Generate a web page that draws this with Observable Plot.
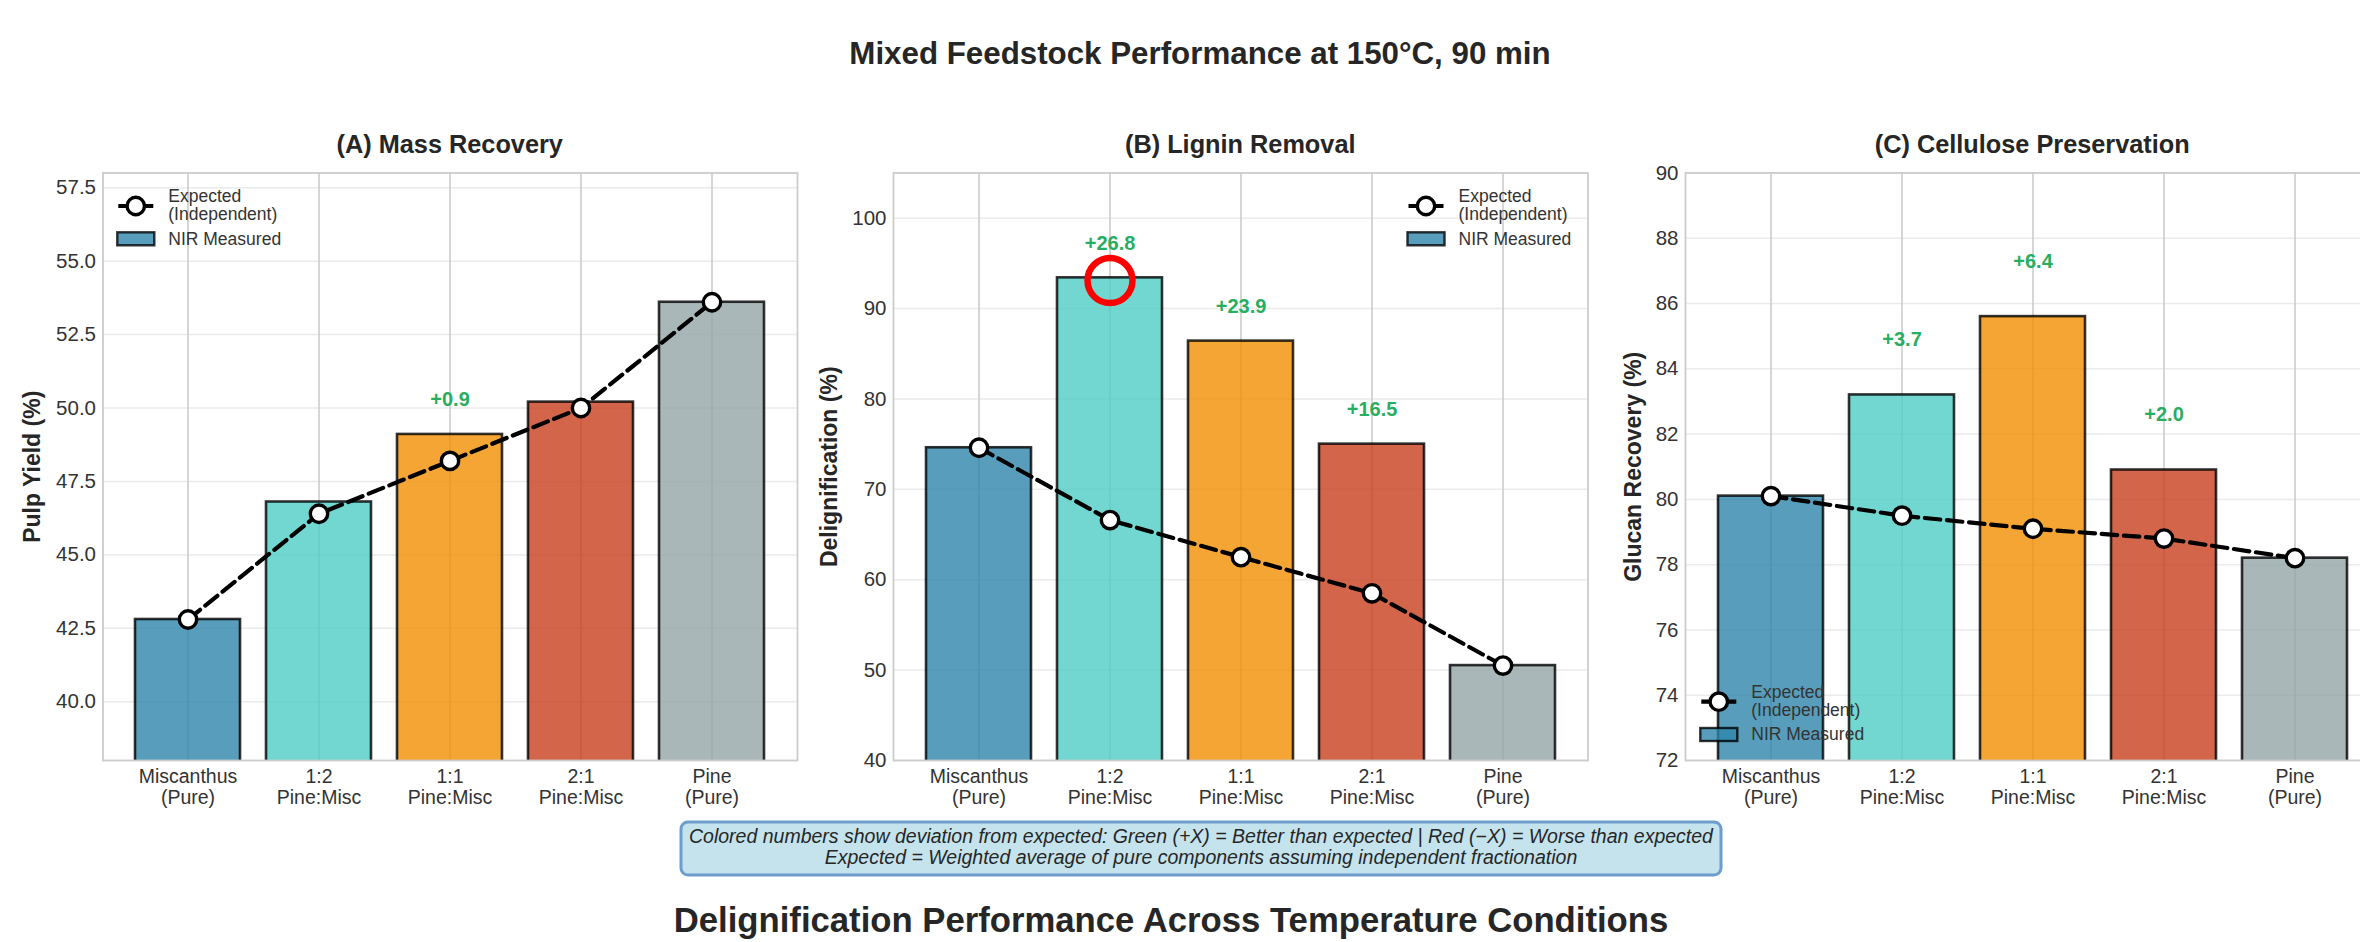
<!DOCTYPE html>
<html>
<head>
<meta charset="utf-8">
<script src="https://cdn.jsdelivr.net/npm/d3@7"></script>
<script src="https://cdn.jsdelivr.net/npm/@observablehq/plot@0.6"></script>
<style>
  html, body { margin: 0; padding: 0; background: #fff; overflow: hidden; }
  #root { position: relative; width: 2360px; height: 942px; overflow: hidden; background: #fff; }
  #root svg { position: absolute; }
</style>
</head>
<body>
<div id="root"></div>
<script>
// ---------------- DATA ----------------
const categories = ["Miscanthus (Pure)", "1:2 Pine:Misc", "1:1 Pine:Misc", "2:1 Pine:Misc", "Pine (Pure)"];
const categoryLabels = ["Miscanthus\n(Pure)", "1:2\nPine:Misc", "1:1\nPine:Misc", "2:1\nPine:Misc", "Pine\n(Pure)"];
const barColors = ["#2E86AB", "#4ECDC4", "#F18F01", "#C73E1D", "#95A5A6"];

const massMeasured = [42.8, 46.8, 49.1, 50.2, 53.6];
const massExpected = [42.8, 46.4, 48.2, 50.0, 53.6];
const massDeviation = [null, null, "+0.9", null, null];
const massTicks = [40.0, 42.5, 45.0, 47.5, 50.0, 52.5, 55.0, 57.5];

const delignMeasured = [74.6, 93.4, 86.4, 75.0, 50.5];
const delignExpected = [74.6, 66.6, 62.5, 58.5, 50.5];
const delignDeviation = [null, "+26.8", "+23.9", "+16.5", null];
const delignTicks = [40, 50, 60, 70, 80, 90, 100];

const glucanMeasured = [80.1, 83.2, 85.6, 80.9, 78.2];
const glucanExpected = [80.1, 79.5, 79.1, 78.8, 78.2];
const glucanDeviation = [null, "+3.7", "+6.4", "+2.0", null];
const glucanTicks = [72, 74, 76, 78, 80, 82, 84, 86, 88, 90];

const highlightB = [{cat: "1:2 Pine:Misc", value: 93.1}];

const suptitle = "Mixed Feedstock Performance at 150°C, 90 min";
const panelTitles = ["(A) Mass Recovery", "(B) Lignin Removal", "(C) Cellulose Preservation"];
const yLabels = ["Pulp Yield (%)", "Delignification (%)", "Glucan Recovery (%)"];
const legendLabels = [["Expected", "(Independent)"], "NIR Measured"];
const noteLines = [
  "Colored numbers show deviation from expected: Green (+X) = Better than expected | Red (\u2212X) = Worse than expected",
  "Expected = Weighted average of pure components assuming independent fractionation"
];
const bottomTitle = "Delignification Performance Across Temperature Conditions";

// ---------------- LAYOUT ----------------
const FONT = "'Liberation Sans', Arial, Helvetica, sans-serif";
const SVG_TOP = 160, SVG_H = 650, M_TOP = 12.5, M_BOTTOM = 50;
const FRAME_W = 694.5;

const panels = [
  {left: 0,    ml: 102.5, mr: 3,   measured: massMeasured,   expected: massExpected,   deviation: massDeviation,
   domain: [38, 58], ticks: massTicks, fmt: d3.format(".1f"), yLabel: yLabels[0], labelDx: 70.5, devOffset: 1.2,
   title: panelTitles[0], legend: {corner: "tl"}},
  {left: 800,  ml: 93,    mr: 12.5, measured: delignMeasured, expected: delignExpected, deviation: delignDeviation,
   domain: [40, 105], ticks: delignTicks, fmt: d3.format("d"), yLabel: yLabels[1], labelDx: 63.5, devOffset: 3.8,
   title: panelTitles[1], legend: {corner: "tr"}, highlight: highlightB},
  {left: 1600, ml: 85,    mr: 5,   measured: glucanMeasured, expected: glucanExpected, deviation: glucanDeviation,
   domain: [72, 90], ticks: glucanTicks, fmt: d3.format("d"), yLabel: yLabels[2], labelDx: 52, devOffset: 1.7,
   title: panelTitles[2], legend: {corner: "bl"}}
];

const root = document.getElementById("root");

function makePanel(cfg) {
  const data = categories.map((c, i) => ({
    cat: c, color: barColors[i], measured: cfg.measured[i], expected: cfg.expected[i], dev: cfg.deviation[i]
  }));
  const marks = [
    Plot.gridY(cfg.ticks, {stroke: "#ebebeb", strokeOpacity: 1, strokeWidth: 1.5}),
    Plot.gridX(categories, {stroke: "#cccccc", strokeOpacity: 1, strokeWidth: 1.6}),
    Plot.barY(data, {x: "cat", y1: 0, y2: "measured", fill: "color", fillOpacity: 0.8,
      stroke: "black", strokeOpacity: 0.8, strokeWidth: 2.6, clip: true}),
    Plot.line(data, {x: "cat", y: "expected", stroke: "black", strokeWidth: 4.2, strokeDasharray: "15.5,6.7"}),
    Plot.dot(data, {x: "cat", y: "expected", r: 8.7, fill: "white", stroke: "black", strokeWidth: 3.4}),
    Plot.text(data.filter(d => d.dev), {x: "cat", y: d => d.measured + cfg.devOffset, text: "dev",
      fill: "#27AE60", fontWeight: "bold", fontSize: 20})
  ];
  if (cfg.highlight) {
    marks.push(Plot.dot(cfg.highlight, {x: "cat", y: "value", r: 22.5, fill: "none", stroke: "#ff0000", strokeWidth: 6.5}));
  }
  marks.push(
    Plot.frame({stroke: "#cccccc", strokeWidth: 1.8}),
    Plot.axisY(cfg.ticks, {tickSize: 0, tickPadding: 7, tickFormat: cfg.fmt, fontSize: 20.5, fill: "#333", label: null}),
    Plot.axisX({tickSize: 0, tickPadding: 7, tickFormat: d => categoryLabels[categories.indexOf(d)],
      lineHeight: 1.1, fontSize: 19.5, fill: "#333", label: null}),
    Plot.text([cfg.yLabel], {frameAnchor: "left", textAnchor: "middle", dx: -cfg.labelDx, rotate: -90, text: d => d,
      fontWeight: "bold", fontSize: 23, fill: "#262626"})
  );
  const width = cfg.ml + FRAME_W + cfg.mr;
  const svg = Plot.plot({
    width, height: SVG_H,
    marginLeft: cfg.ml, marginRight: cfg.mr, marginTop: M_TOP, marginBottom: M_BOTTOM,
    style: {fontFamily: FONT, fontSize: "19.5px", color: "#333", background: "transparent", overflow: "visible"},
    x: {domain: categories, paddingInner: 0.2, paddingOuter: 0.24, label: null},
    y: {domain: cfg.domain, label: null},
    color: {type: "identity"},
    marks
  });
  svg.style.position = "absolute";
  svg.style.left = cfg.left + "px";
  svg.style.top = SVG_TOP + "px";
  root.appendChild(svg);
}
panels.forEach(makePanel);

// ---------------- OVERLAY (titles, legends, note) ----------------
const ov = d3.select(root).append("svg")
  .attr("width", 2360).attr("height", 942)
  .style("left", "0px").style("top", "0px")
  .style("font-family", FONT);

ov.append("text").attr("x", 1200).attr("y", 64).attr("text-anchor", "middle")
  .attr("font-size", 31.3).attr("font-weight", "bold").attr("fill", "#262626").text(suptitle);

const frameTop = SVG_TOP + M_TOP, frameBottom = SVG_TOP + SVG_H - M_BOTTOM;
panels.forEach(p => {
  const fl = p.left + p.ml, fr = fl + FRAME_W;
  ov.append("text").attr("x", (fl + fr) / 2).attr("y", 153).attr("text-anchor", "middle")
    .attr("font-size", 25.3).attr("font-weight", "bold").attr("fill", "#262626").text(p.title);
  let lx, ly;
  if (p.legend.corner === "tl") { lx = fl + 14.8; ly = frameTop + 33.5; }
  else if (p.legend.corner === "tr") { lx = fr - 180; ly = frameTop + 33.5; }
  else { lx = fl + 15.3; ly = frameBottom - 58.3; }
  const g = ov.append("g");
  g.append("line").attr("x1", lx + 1).attr("x2", lx + 36).attr("y1", ly).attr("y2", ly)
    .attr("stroke", "black").attr("stroke-width", 4.2);
  g.append("circle").attr("cx", lx + 18.5).attr("cy", ly).attr("r", 8.7)
    .attr("fill", "white").attr("stroke", "black").attr("stroke-width", 3.4);
  g.append("text").attr("x", lx + 51).attr("y", ly - 10.3).attr("dy", "0.35em")
    .attr("font-size", 17.5).attr("fill", "#333").text(legendLabels[0][0]);
  g.append("text").attr("x", lx + 51).attr("y", ly + 8).attr("dy", "0.35em")
    .attr("font-size", 17.5).attr("fill", "#333").text(legendLabels[0][1]);
  g.append("rect").attr("x", lx).attr("y", ly + 26.3).attr("width", 37).attr("height", 13)
    .attr("fill", barColors[0]).attr("fill-opacity", 0.8).attr("stroke", "black").attr("stroke-opacity", 0.8)
    .attr("stroke-width", 2.4);
  g.append("text").attr("x", lx + 51).attr("y", ly + 32.6).attr("dy", "0.35em")
    .attr("font-size", 17.5).attr("fill", "#333").text(legendLabels[1]);
});

// note box
ov.append("rect").attr("x", 681).attr("y", 822).attr("width", 1040).attr("height", 53).attr("rx", 7)
  .attr("fill", "#c4e3ed").attr("stroke", "#6d9dcd").attr("stroke-width", 3);
ov.append("text").attr("x", 1201).attr("y", 843).attr("text-anchor", "middle")
  .attr("font-size", 19.5).attr("font-style", "italic").attr("fill", "#262626").text(noteLines[0]);
ov.append("text").attr("x", 1201).attr("y", 864).attr("text-anchor", "middle")
  .attr("font-size", 19.5).attr("font-style", "italic").attr("fill", "#262626").text(noteLines[1]);

ov.append("text").attr("x", 1171).attr("y", 932).attr("text-anchor", "middle")
  .attr("font-size", 34.7).attr("font-weight", "bold").attr("fill", "#262626").text(bottomTitle);
</script>
</body>
</html>
